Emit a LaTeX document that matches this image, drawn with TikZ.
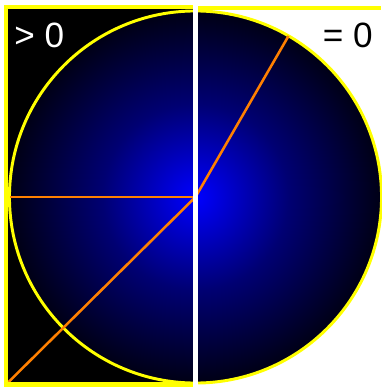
\documentclass[tikz,border=0pt]{standalone}
\usepackage{fontspec}
\setmainfont{Liberation Sans}
\usepackage{xcolor}
\definecolor{rayorange}{RGB}{255, 128, 0}
\definecolor{rimyellow}{RGB}{255, 255, 0}
\pgfdeclareradialshading{discglow}{\pgfpoint{0bp}{0bp}}{color(0bp)=(blue); color(12.5bp)=(blue!45!black); color(25bp)=(blue!8!black); color(50bp)=(blue!8!black)}

\begin{document}
\begin{tikzpicture}[
    x=0.025cm, y=-0.025cm,
    every node/.style={inner sep=0pt, font=\fontsize{25}{30}\selectfont},
    panelframe/.style={draw=rimyellow, line width=3.5pt},
    rim/.style={draw=rimyellow, line width=2.1pt},
    ray/.style={draw=rayorange, line width=1.8pt},
    gap/.style={fill=white}
]
\useasboundingbox[fill=white] (0,0) rectangle (381,387);

% Coordinates
\coordinate (centre) at (195.5,197);
\coordinate (leftrim) at (9.5,197);
\coordinate (corner) at (6,384.5);
\coordinate (toprim) at (288.5,36);

% Panels and disc
\fill[black] (6,7) rectangle (193,384.5);
\shade[shading=discglow] (centre) circle[radius=4.65cm];
\path[rim] (centre) circle[radius=4.65cm];

% Rays
\draw[ray] (centre) -- (leftrim);
\draw[ray] (centre) -- (corner);
\draw[ray] (centre) -- (toprim);

% Frames
\draw[panelframe] (193,7) -- (6,7) -- (6,384.5) -- (193,384.5);
\draw[rimyellow, line width=2.8pt] (198,8) -- (381,8);
\fill[gap] (193,0) rectangle (198,387);

% Labels
\node[anchor=base west, text=white] (gtzero) at (14,48) {> 0};
\node[anchor=base east, text=black] (eqzero) at (373,48) {= 0};

\end{tikzpicture}
\end{document}
